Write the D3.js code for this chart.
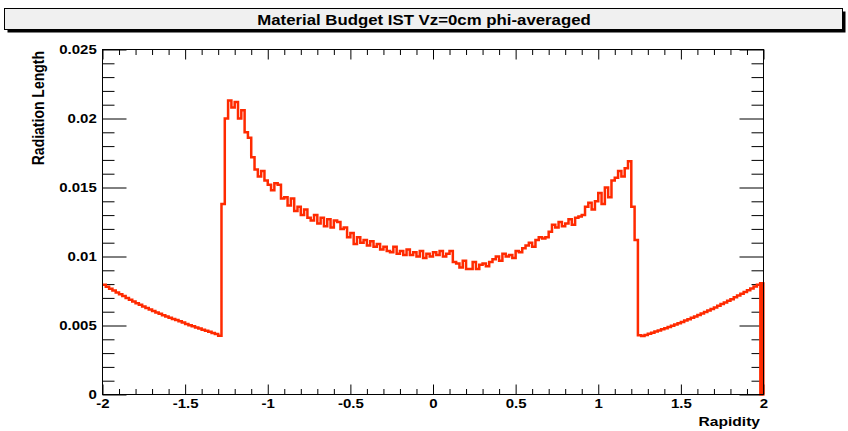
<!DOCTYPE html>
<html>
<head>
<meta charset="utf-8">
<script src="https://cdn.jsdelivr.net/npm/d3@7"></script>
<style>
  body { margin: 0; background: #fff; }
  svg text { font-family: 'Liberation Sans', Arial, sans-serif; font-weight: bold; fill: #000; }
</style>
</head>
<body>
<svg id="chart" width="848" height="431"></svg>
<script>
const titleText = 'Material Budget IST Vz=0cm phi-averaged';
const xTitle = 'Rapidity';
const yTitle = 'Radiation Length';

const rapidityRange = [-2, 2];
const radLenRange = [0, 0.025];
const nBins = 200;

const xMajorTicks = [-2, -1.5, -1, -0.5, 0, 0.5, 1, 1.5, 2];
const xTickLabels = ['-2', '-1.5', '-1', '-0.5', '0', '0.5', '1', '1.5', '2'];
const yMajorTicks = [0, 0.005, 0.01, 0.015, 0.02, 0.025];
const yTickLabels = ['0', '0.005', '0.01', '0.015', '0.02', '0.025'];

// bin contents, 0.02 wide
// -1.99 .. -1.29
const leftSide = [
  0.00795, 0.00781, 0.00767, 0.00753, 0.00739, 0.00726, 0.00713, 0.00700, 0.00687, 0.00674,
  0.00662, 0.00650, 0.00638, 0.00627, 0.00616, 0.00605, 0.00595, 0.00585, 0.00575, 0.00566,
  0.00557, 0.00548, 0.00539, 0.00530, 0.00522, 0.00510, 0.00502, 0.00494, 0.00486, 0.00478,
  0.00470, 0.00462, 0.00454, 0.00446, 0.00438, 0.00425
];
// -1.27 .. 1.25
const central = [
  0.0138, 0.0200, 0.0213, 0.0208, 0.0212, 0.0200, 0.0206, 0.0190, 0.0186, 0.0172,
  0.0163, 0.0158, 0.0162, 0.0155, 0.0152, 0.0148, 0.0153, 0.0152, 0.0142, 0.0143,
  0.0137, 0.0142, 0.0133, 0.0136, 0.0130, 0.0134, 0.0128, 0.0126, 0.0130, 0.0124,
  0.0128, 0.0122, 0.0127, 0.0121, 0.0126, 0.0125, 0.0120, 0.0121, 0.0114, 0.0117,
  0.0109, 0.0114, 0.0110, 0.0112, 0.0108, 0.0111, 0.0107, 0.0109, 0.0105, 0.0107,
  0.0104, 0.0103, 0.0107, 0.0102, 0.0104, 0.0101, 0.0105, 0.0101, 0.0103, 0.0100,
  0.0104, 0.0099, 0.0102, 0.0100, 0.0103, 0.0101, 0.0104, 0.0100, 0.0102, 0.0104,
  0.0096, 0.0095, 0.0092, 0.0097, 0.0091, 0.0091, 0.0096, 0.0091, 0.0094, 0.0095,
  0.0093, 0.0096, 0.0098, 0.0100, 0.0097, 0.0102, 0.0100, 0.0101, 0.0099, 0.0104,
  0.0103, 0.0106, 0.0108, 0.0110, 0.0107, 0.0112, 0.0114, 0.0113, 0.0114, 0.0118,
  0.0123, 0.0121, 0.0125, 0.0122, 0.0124, 0.0127, 0.0123, 0.0128, 0.0129, 0.0130,
  0.0136, 0.0139, 0.0134, 0.0140, 0.0146, 0.0138, 0.0150, 0.0143, 0.0155, 0.0157,
  0.0162, 0.0158, 0.0164, 0.0169, 0.0136, 0.0112, 0.0043
];
// 1.27 .. 1.99
const rightSide = [
  0.00424, 0.00432, 0.00440, 0.00448, 0.00456, 0.00464, 0.00472, 0.00480, 0.00489, 0.00498,
  0.00507, 0.00516, 0.00526, 0.00536, 0.00546, 0.00556, 0.00566, 0.00576, 0.00587, 0.00598,
  0.00609, 0.00620, 0.00631, 0.00643, 0.00655, 0.00667, 0.00679, 0.00691, 0.00704, 0.00717,
  0.00730, 0.00743, 0.00756, 0.00769, 0.00782, 0.00795, 0.00806
];

const radLen = [...leftSide, ...central, ...rightSide];
if (radLen.length !== nBins) console.warn('bin count', radLen.length);

// the picture is stretched sideways, so text gets the same stretch
const stretch = 1.2;
const frame = { left: 102.5, right: 763.5, top: 49.5, bottom: 394.5 };

const x = d3.scaleLinear().domain(rapidityRange).range([frame.left, frame.right]);
const y = d3.scaleLinear().domain(radLenRange).range([frame.bottom, frame.top]);

const svg = d3.select('#chart');

// Step 1: title pave with its shadow
svg.append('rect')
  .attr('x', 7.5).attr('y', 11.5)
  .attr('width', 838).attr('height', 21)
  .attr('fill', '#000');
svg.append('rect')
  .attr('x', 4.5).attr('y', 8.5)
  .attr('width', 838).attr('height', 21)
  .attr('fill', '#f0f0f0')
  .attr('stroke', '#000');
svg.append('text')
  .attr('transform', `translate(424,24.5) scale(${stretch},1)`)
  .attr('text-anchor', 'middle')
  .style('font-size', '14px')
  .text(titleText);

// Step 2: ticks on all four sides, pointing inward
const onGrid = (v, step) => Math.abs(v / step - Math.round(v / step)) < 1e-6;
const minorX = d3.range(-20, 21).map(k => k / 10).filter(v => !onGrid(v, 0.5));
const minorY = d3.range(0, 26).map(k => k / 1000).filter(v => !onGrid(v, 0.005));

const styleAxis = g => {
  g.select('.domain').remove();
  g.selectAll('line').attr('stroke', '#000');
  g.attr('font-family', null).attr('font-size', null);
};

svg.append('g')
  .attr('transform', `translate(0,${frame.bottom})`)
  .call(d3.axisBottom(x).tickValues(xMajorTicks).tickSize(-10).tickPadding(5)
    .tickFormat((d, i) => xTickLabels[i]))
  .call(styleAxis)
  .call(g => g.selectAll('text')
    .attr('transform', `scale(${stretch},1)`)
    .style('font-size', '12.5px'));

svg.append('g')
  .attr('transform', `translate(0,${frame.bottom})`)
  .call(d3.axisBottom(x).tickValues(minorX).tickSize(-5.5).tickFormat(''))
  .call(styleAxis);

svg.append('g')
  .attr('transform', `translate(0,${frame.top})`)
  .call(d3.axisTop(x).tickValues(xMajorTicks).tickSize(-10).tickFormat(''))
  .call(styleAxis);

svg.append('g')
  .attr('transform', `translate(0,${frame.top})`)
  .call(d3.axisTop(x).tickValues(minorX).tickSize(-5.5).tickFormat(''))
  .call(styleAxis);

svg.append('g')
  .attr('transform', `translate(${frame.left},0)`)
  .call(d3.axisLeft(y).tickValues(yMajorTicks).tickSize(-24).tickPadding(4.8)
    .tickFormat((d, i) => yTickLabels[i]))
  .call(styleAxis)
  .call(g => g.selectAll('text')
    .attr('transform', `scale(${stretch},1)`)
    .attr('dy', '0.3em')
    .style('font-size', '12.5px'));

svg.append('g')
  .attr('transform', `translate(${frame.left},0)`)
  .call(d3.axisLeft(y).tickValues(minorY).tickSize(-12).tickFormat(''))
  .call(styleAxis);

svg.append('g')
  .attr('transform', `translate(${frame.right},0)`)
  .call(d3.axisRight(y).tickValues(yMajorTicks).tickSize(-24).tickFormat(''))
  .call(styleAxis);

svg.append('g')
  .attr('transform', `translate(${frame.right},0)`)
  .call(d3.axisRight(y).tickValues(minorY).tickSize(-12).tickFormat(''))
  .call(styleAxis);

// Step 3: the histogram outline
const binWidth = (rapidityRange[1] - rapidityRange[0]) / nBins;
const edges = d3.range(nBins + 1).map(i => rapidityRange[0] + i * binWidth);
const points = radLen.map((v, i) => [edges[i], v]).concat([[edges[nBins], radLen[nBins - 1]]]);

const histLine = d3.line()
  .x(d => x(d[0]))
  .y(d => y(d[1]))
  .curve(d3.curveStepAfter);

const red = '#ff2a00';

// last bin shows up filled in the original
svg.append('rect')
  .attr('x', x(edges[nBins - 1]))
  .attr('y', y(radLen[nBins - 1]))
  .attr('width', x(edges[nBins]) - x(edges[nBins - 1]))
  .attr('height', y(0) - y(radLen[nBins - 1]))
  .attr('fill', red)
  .attr('stroke', red)
  .attr('stroke-width', 2.2);

svg.append('path')
  .datum(points)
  .attr('d', histLine)
  .attr('fill', 'none')
  .attr('stroke', red)
  .attr('stroke-width', 2.5);

// Step 4: frame and axis titles
svg.append('rect')
  .attr('x', frame.left).attr('y', frame.top)
  .attr('width', frame.right - frame.left)
  .attr('height', frame.bottom - frame.top)
  .attr('fill', 'none')
  .attr('stroke', '#000');

svg.append('text')
  .attr('transform', `translate(760,425.5) scale(${stretch},1)`)
  .attr('text-anchor', 'end')
  .style('font-size', '13px')
  .text(xTitle);

svg.append('text')
  .attr('transform', `translate(43.5,51) scale(${stretch},1) rotate(-90)`)
  .attr('text-anchor', 'end')
  .style('font-size', '14px')
  .text(yTitle);
</script>
</body>
</html>
